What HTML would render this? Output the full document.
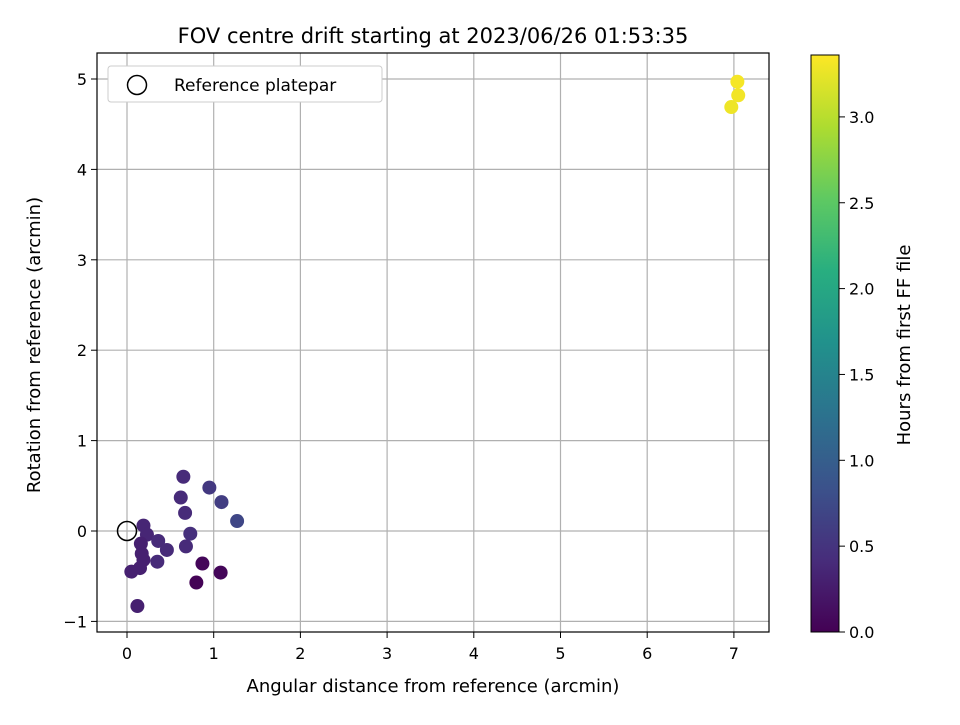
<!DOCTYPE html>
<html><head><meta charset="utf-8"><style>body{margin:0;background:#fff}svg{font-family:"DejaVu Sans","Liberation Sans",sans-serif}</style></head>
<body>
<svg id="c" width="960" height="720" xmlns="http://www.w3.org/2000/svg">
<defs><linearGradient id="vir" x1="0" y1="1" x2="0" y2="0">
<stop offset="0" stop-color="#440154"/><stop offset="0.125" stop-color="#472d7b"/><stop offset="0.25" stop-color="#3b528b"/><stop offset="0.375" stop-color="#2c728e"/><stop offset="0.5" stop-color="#21918c"/><stop offset="0.625" stop-color="#28ae80"/><stop offset="0.75" stop-color="#5ec962"/><stop offset="0.875" stop-color="#addc30"/><stop offset="1" stop-color="#fde725"/></linearGradient></defs>
<text x="433" y="43" font-size="21" text-anchor="middle">FOV centre drift starting at 2023/06/26 01:53:35</text>
<g id="grid"></g><g id="pts"></g>
<rect x="97" y="53" width="672" height="579" fill="none" stroke="#000" stroke-width="1.2"/>
<g id="ticks" font-size="16"></g>
<text x="433" y="692" font-size="18" text-anchor="middle">Angular distance from reference (arcmin)</text>
<text transform="translate(40,345) rotate(-90)" font-size="18" text-anchor="middle">Rotation from reference (arcmin)</text>
<g>
<rect x="108" y="66" width="274" height="36" rx="3" fill="#fff" stroke="#ccc"/>
<circle cx="137" cy="85" r="9.5" fill="none" stroke="#000" stroke-width="1.5"/>
<text x="174" y="91" font-size="17">Reference platepar</text></g>
<rect x="811" y="55" width="28" height="577" fill="url(#vir)" stroke="#000" stroke-width="1"/>
<g id="cbt" font-size="16"></g>
<text transform="translate(910,345) rotate(-90)" font-size="18" text-anchor="middle">Hours from first FF file</text>
</svg>
<script>
const xs=[0.65,0.95,0.62,1.09,0.67,1.27,0.19,0.73,0.23,0.36,0.16,0.46,0.68,0.17,0.19,0.35,0.87,0.15,0.05,1.08,0.80,0.12,7.04,7.05,6.97];
const ys=[0.60,0.48,0.37,0.32,0.20,0.11,0.06,-0.03,-0.04,-0.11,-0.14,-0.21,-0.17,-0.25,-0.32,-0.34,-0.36,-0.41,-0.45,-0.46,-0.57,-0.83,4.97,4.82,4.69];
const hours=[0.4,0.55,0.4,0.6,0.4,0.7,0.35,0.45,0.35,0.4,0.3,0.4,0.4,0.3,0.3,0.4,0.05,0.3,0.3,0.05,0.02,0.3,3.32,3.3,3.28];
const xTicks=[0,1,2,3,4,5,6,7];
const yTicks=[-1,0,1,2,3,4,5];
const cTicks=[0.0,0.5,1.0,1.5,2.0,2.5,3.0];
const X=v=>127+v*86.7, Y=v=>531-v*90.4, C=v=>632-v*171.7, HMAX=3.36;
const stops=[[68,1,84],[71,45,123],[59,82,139],[44,114,142],[33,145,140],[40,174,128],[94,201,98],[173,220,48],[253,231,37]];
function vir(t){t=Math.max(0,Math.min(1,t))*8;const i=Math.min(7,Math.floor(t)),f=t-i,a=stops[i],b=stops[i+1];return `rgb(${a.map((v,k)=>Math.round(v+(b[k]-v)*f)).join(',')})`;}
const NS='http://www.w3.org/2000/svg';
function mk(p,tag,at,txt){const e=document.createElementNS(NS,tag);for(const k in at)e.setAttribute(k,at[k]);if(txt!==undefined)e.textContent=txt;document.getElementById(p).appendChild(e);return e;}
xTicks.forEach(v=>{
let g=mk('grid','line',{x1:X(v),x2:X(v),y1:53,y2:632,stroke:'#b0b0b0','stroke-width':1.2});


mk('ticks','line',{x1:X(v),x2:X(v),y1:632,y2:638,stroke:'#000'});
let t=mk('ticks','text',{x:X(v),y:659,'text-anchor':'middle'},String(v));

});
yTicks.forEach(v=>{
let g=mk('grid','line',{x1:97,x2:769,y1:Y(v),y2:Y(v),stroke:'#b0b0b0','stroke-width':1.2});


mk('ticks','line',{x1:91,x2:97,y1:Y(v),y2:Y(v),stroke:'#000'});
let t=mk('ticks','text',{x:87,y:Y(v)+6,'text-anchor':'end'},v<0?'\u2212'+(-v):String(v));

});
cTicks.forEach(v=>{
mk('cbt','line',{x1:839,x2:845,y1:C(v),y2:C(v),stroke:'#000'});
let t=mk('cbt','text',{x:849,y:C(v)+6},v.toFixed(1));

});
xs.forEach((x,i)=>{
let c=mk('pts','circle',{cx:X(x),cy:Y(ys[i]),r:7,fill:vir(hours[i]/HMAX)});

});
let r=mk('pts','circle',{cx:X(0),cy:Y(0),r:9.5,fill:'none',stroke:'#000','stroke-width':1.5});


</script>
</body></html>
